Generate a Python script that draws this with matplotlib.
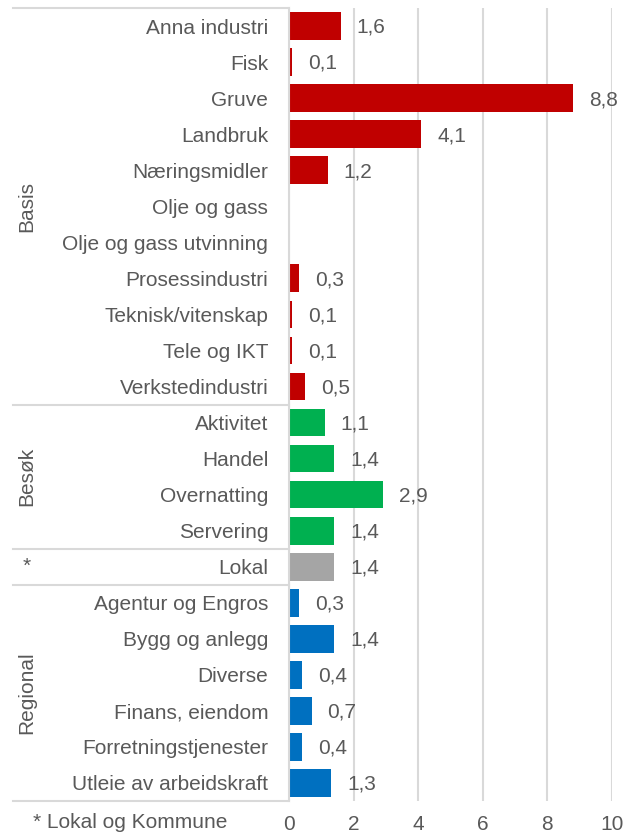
import matplotlib.pyplot as plt

plt.rcParams['font.family'] = ['Liberation Sans', 'DejaVu Sans']

# Data
categories = ["Anna industri", "Fisk", "Gruve", "Landbruk", "Næringsmidler",
              "Olje og gass", "Olje og gass utvinning", "Prosessindustri",
              "Teknisk/vitenskap", "Tele og IKT", "Verkstedindustri",
              "Aktivitet", "Handel", "Overnatting", "Servering",
              "Lokal",
              "Agentur og Engros", "Bygg og anlegg", "Diverse", "Finans, eiendom",
              "Forretningstjenester", "Utleie av arbeidskraft"]
values = [1.6, 0.1, 8.8, 4.1, 1.2, 0.0, 0.0, 0.3, 0.1, 0.1, 0.5,
          1.1, 1.4, 2.9, 1.4,
          1.4,
          0.3, 1.4, 0.4, 0.7, 0.4, 1.3]
groups = ["Basis"] * 11 + ["Besøk"] * 4 + ["*"] + ["Regional"] * 6
group_colors = {"Basis": "#C00000", "Besøk": "#00B050", "*": "#A5A5A5", "Regional": "#0070C0"}
xticks = [0, 2, 4, 6, 8, 10]
footnote = "* Lokal og Kommune"

text_col = "#595959"
line_col = "#D9D9D9"

fig = plt.figure(figsize=(6.38, 8.36), dpi=100)
W, H = 638, 836
left, right, top, bottom = 289, 612, 8, 801
ax = fig.add_axes([left / W, 1 - bottom / H, (right - left) / W, (bottom - top) / H])

n = len(categories)
ypos = list(range(n))
colors = [group_colors[g] for g in groups]
ax.barh(ypos, values, height=0.77, color=colors, zorder=3)

for y, v in zip(ypos, values):
    if v > 0:
        ax.annotate(f"{v:.1f}".replace(".", ","), (v, y), xytext=(11.5, -1),
                    textcoords="offset points", va="center", ha="left",
                    fontsize=15, color=text_col)

ax.set_xlim(0, 10)
ax.set_ylim(n - 0.5, -0.5)
ax.set_xticks(xticks)
ax.set_xticklabels([str(t) for t in xticks], fontsize=15, color=text_col)
ax.set_yticks(ypos)
ax.set_yticklabels(categories, fontsize=15, color=text_col)
ax.tick_params(axis="y", length=0, pad=15)
ax.tick_params(axis="x", length=0, pad=10)
ax.grid(axis="x", color=line_col, linewidth=1.5, zorder=0)
for s in ["top", "right", "bottom"]:
    ax.spines[s].set_visible(False)
ax.spines["left"].set_color(line_col)
ax.spines["left"].set_linewidth(1.5)
ax.spines["left"].set_zorder(4)

# group separators and labels in the category column
tr = ax.get_yaxis_transform()
x0 = (13 - left) / (right - left)
bounds = [-0.5]
names = []
for i, g in enumerate(groups):
    if i == 0 or g != groups[i - 1]:
        if i > 0:
            bounds.append(i - 0.5)
        names.append(g)
bounds.append(n - 0.5)
for b in bounds:
    ax.plot([x0, 0], [b, b], transform=tr, color=line_col, linewidth=1.5, clip_on=False)
xg = (27 - left) / (right - left)
for name, b0, b1 in zip(names, bounds[:-1], bounds[1:]):
    rot = 0 if name == "*" else 90
    ax.text(xg, (b0 + b1) / 2, name, transform=tr, rotation=rot, ha="center", va="center",
            fontsize=15, color=text_col)

fig.text(33 / W, 1 - 823 / H, footnote, fontsize=15, color=text_col, ha="left", va="center")

fig.savefig("out.png", dpi=100)
